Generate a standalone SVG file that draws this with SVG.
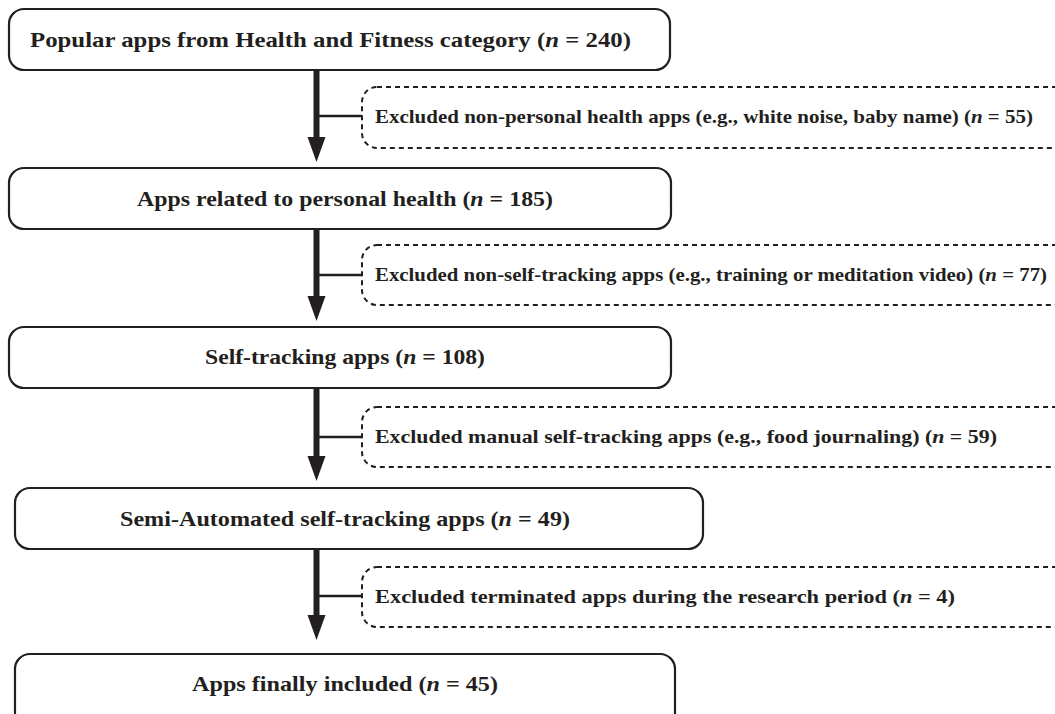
<svg xmlns="http://www.w3.org/2000/svg" width="1055" height="714" viewBox="0 0 1055 714">
<style>
.box{fill:#fff;stroke:#231f20;stroke-width:2.2}
.dbox{fill:#fff;stroke:#231f20;stroke-width:2;stroke-dasharray:5 4}
.t{font-family:"Liberation Serif","Times New Roman",serif;font-weight:bold;font-size:21px;fill:#231f20;text-anchor:middle}
.d{font-family:"Liberation Serif","Times New Roman",serif;font-weight:bold;font-size:19px;fill:#231f20}
.sh{stroke:#231f20;stroke-width:6;fill:none}
.br{stroke:#231f20;stroke-width:2.5;fill:none}
</style>
<g id="connectors">
<line class="sh" x1="316.5" y1="70" x2="316.5" y2="144"/>
<path d="M307.5,137 L325.5,137 L316.5,162 Z" fill="#231f20"/>
<line class="br" x1="316.5" y1="116" x2="362" y2="116"/>
<line class="sh" x1="316.5" y1="229" x2="316.5" y2="303"/>
<path d="M307.5,296 L325.5,296 L316.5,321 Z" fill="#231f20"/>
<line class="br" x1="316.5" y1="275" x2="362" y2="275"/>
<line class="sh" x1="316.5" y1="388" x2="316.5" y2="463"/>
<path d="M307.5,456 L325.5,456 L316.5,481 Z" fill="#231f20"/>
<line class="br" x1="316.5" y1="437" x2="362" y2="437"/>
<line class="sh" x1="316.5" y1="549" x2="316.5" y2="622"/>
<path d="M307.5,615 L325.5,615 L316.5,640 Z" fill="#231f20"/>
<line class="br" x1="316.5" y1="596" x2="362" y2="596"/>
</g>
<g id="n1">
<rect class="box" x="9" y="9" width="661" height="61" rx="15"/>
<text class="t" x="330.5" y="47" textLength="601" lengthAdjust="spacingAndGlyphs">Popular apps from Health and Fitness category (<tspan font-style="italic">n</tspan> = 240)</text>
</g>
<g id="x1">
<rect class="dbox" x="362" y="87" width="720" height="61" rx="15"/>
<text class="d" x="375" y="123" textLength="658" lengthAdjust="spacingAndGlyphs">Excluded non-personal health apps (e.g., white noise, baby name) (<tspan font-style="italic">n</tspan> = 55)</text>
</g>
<g id="n2">
<rect class="box" x="9" y="168" width="662" height="61" rx="15"/>
<text class="t" x="345" y="206" textLength="416" lengthAdjust="spacingAndGlyphs">Apps related to personal health (<tspan font-style="italic">n</tspan> = 185)</text>
</g>
<g id="x2">
<rect class="dbox" x="362" y="245" width="720" height="60" rx="15"/>
<text class="d" x="375" y="281" textLength="672" lengthAdjust="spacingAndGlyphs">Excluded non-self-tracking apps (e.g., training or meditation video) (<tspan font-style="italic">n</tspan> = 77)</text>
</g>
<g id="n3">
<rect class="box" x="9" y="327" width="662" height="61" rx="15"/>
<text class="t" x="345" y="364" textLength="280" lengthAdjust="spacingAndGlyphs">Self-tracking apps (<tspan font-style="italic">n</tspan> = 108)</text>
</g>
<g id="x3">
<rect class="dbox" x="362" y="407" width="720" height="60" rx="15"/>
<text class="d" x="375" y="443" textLength="622" lengthAdjust="spacingAndGlyphs">Excluded manual self-tracking apps (e.g., food journaling) (<tspan font-style="italic">n</tspan> = 59)</text>
</g>
<g id="n4">
<rect class="box" x="15" y="488" width="688" height="61" rx="15"/>
<text class="t" x="345" y="526" textLength="450" lengthAdjust="spacingAndGlyphs">Semi-Automated self-tracking apps (<tspan font-style="italic">n</tspan> = 49)</text>
</g>
<g id="x4">
<rect class="dbox" x="362" y="567" width="720" height="60" rx="15"/>
<text class="d" x="375" y="603" textLength="580" lengthAdjust="spacingAndGlyphs">Excluded terminated apps during the research period (<tspan font-style="italic">n</tspan> = 4)</text>
</g>
<g id="n5">
<rect class="box" x="15" y="654" width="660" height="80" rx="15"/>
<text class="t" x="345" y="691" textLength="306" lengthAdjust="spacingAndGlyphs">Apps finally included (<tspan font-style="italic">n</tspan> = 45)</text>
</g>
</svg>
